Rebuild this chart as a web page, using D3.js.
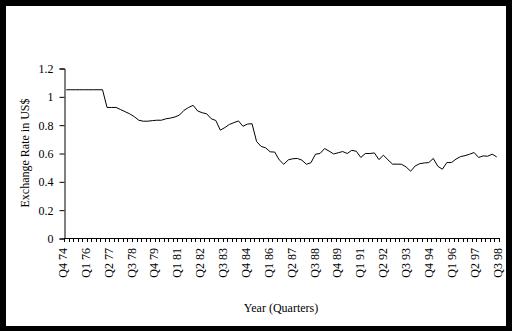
<!DOCTYPE html>
<html>
<head>
<meta charset="utf-8">
<script src="https://cdn.jsdelivr.net/npm/d3@7"></script>
<style>
  html, body { margin: 0; padding: 0; background: #000; }
  svg { display: block; }
  text { font-family: "Liberation Serif", "Times New Roman", serif; font-size: 12px; fill: #000; }
</style>
</head>
<body>
<script>
// ---- Data ----
const startYear = 1974, startQuarter = 4, nQuarters = 96;
const quarters = [];
for (let k = 0; k < nQuarters; k++) {
  const q = ((startQuarter - 1 + k) % 4) + 1;
  const yr = startYear + Math.floor((startQuarter - 1 + k) / 4);
  quarters.push("Q" + q + " " + String(yr % 100).padStart(2, "0"));
}
const exchangeRate = [
  1.05, 1.05, 1.05, 1.05, 1.05, 1.05, 1.05, 1.05, 1.05, 0.925,
  0.925, 0.925, 0.91, 0.895, 0.88, 0.86, 0.835, 0.828, 0.828, 0.832,
  0.835, 0.835, 0.845, 0.85, 0.858, 0.872, 0.905, 0.925, 0.94, 0.90,
  0.888, 0.88, 0.845, 0.833, 0.765, 0.783, 0.805, 0.818, 0.83, 0.792,
  0.808, 0.81, 0.685, 0.65, 0.64, 0.612, 0.61, 0.555, 0.524, 0.555,
  0.563, 0.565, 0.553, 0.524, 0.535, 0.595, 0.60, 0.635, 0.617, 0.597,
  0.605, 0.614, 0.60, 0.622, 0.616, 0.572, 0.60, 0.60, 0.604, 0.557,
  0.588, 0.555, 0.525, 0.525, 0.524, 0.505, 0.475, 0.512, 0.528, 0.533,
  0.536, 0.565, 0.51, 0.489, 0.536, 0.536, 0.56, 0.578, 0.585, 0.595,
  0.607, 0.572, 0.583, 0.581, 0.595, 0.576
];
const xTickLabels = ["Q4 74","Q1 76","Q2 77","Q3 78","Q4 79","Q1 81","Q2 82","Q3 83","Q4 84","Q1 86",
                     "Q2 87","Q3 88","Q4 89","Q1 91","Q2 92","Q3 93","Q4 94","Q1 96","Q2 97","Q3 98"];
const yTicks = [0, 0.2, 0.4, 0.6, 0.8, 1, 1.2];
const yTitle = "Exchange Rate in US$";
const xTitle = "Year (Quarters)";

// ---- Layout ----
const W = 512, H = 331;
const plotL = 64, plotR = 499, plotT = 68, plotB = 238;

const svg = d3.select("body").append("svg").attr("width", W).attr("height", H);
svg.append("rect").attr("width", W).attr("height", H).attr("fill", "#000");
svg.append("rect").attr("x", 6).attr("y", 6).attr("width", 500).attr("height", 320).attr("fill", "#fff");

const x = d3.scaleBand().domain(quarters).range([plotL, plotR]).padding(0);
const y = d3.scaleLinear().domain([0, 1.2]).range([plotB, plotT]);
const xLab = d3.scalePoint().domain(xTickLabels).range([62.7, 497.3]);

// Y axis
const yAxis = d3.axisLeft(y).tickValues(yTicks).tickSize(5).tickPadding(6)
  .tickFormat(d => String(+d.toFixed(1)));
const gy = svg.append("g").attr("transform", `translate(${plotL + 0.5},0.5)`).call(yAxis);
gy.selectAll("path,line").attr("stroke", "#000");
gy.selectAll("text").style("font-family", '"Liberation Serif", serif').style("font-size", "12px").attr("fill", "#000");

// X axis line + minor ticks at category boundaries
const gx = svg.append("g");
gx.append("line").attr("x1", plotL).attr("x2", plotR + 0.5)
  .attr("y1", plotB + 0.5).attr("y2", plotB + 0.5).attr("stroke", "#000");
const bounds = quarters.map(q => x(q)).concat([x(quarters[nQuarters - 1]) + x.bandwidth()]);
gx.selectAll("line.tick").data(bounds).join("line").attr("class", "tick")
  .attr("x1", d => Math.round(d) + 0.5).attr("x2", d => Math.round(d) + 0.5)
  .attr("y1", plotB).attr("y2", plotB + 4).attr("stroke", "#000");
gx.selectAll("text").data(xTickLabels).join("text")
  .attr("transform", d => `translate(${xLab(d)},248) rotate(-90)`)
  .attr("dy", "0.35em").attr("text-anchor", "end").text(d => d);

// Line
const line = d3.line().x((d, i) => x(quarters[i]) + x.bandwidth() / 2).y(d => y(d));
svg.append("path").datum(exchangeRate).attr("d", line)
  .attr("fill", "none").attr("stroke", "#000").attr("stroke-width", 1)
  .attr("transform", "translate(0,0.5)");

// Titles
svg.append("text").attr("transform", "translate(25,153) rotate(-90)")
  .attr("text-anchor", "middle").attr("dy", "0.35em").text(yTitle);
svg.append("text").attr("x", 281).attr("y", 312).attr("text-anchor", "middle").text(xTitle);
</script>
</body>
</html>
